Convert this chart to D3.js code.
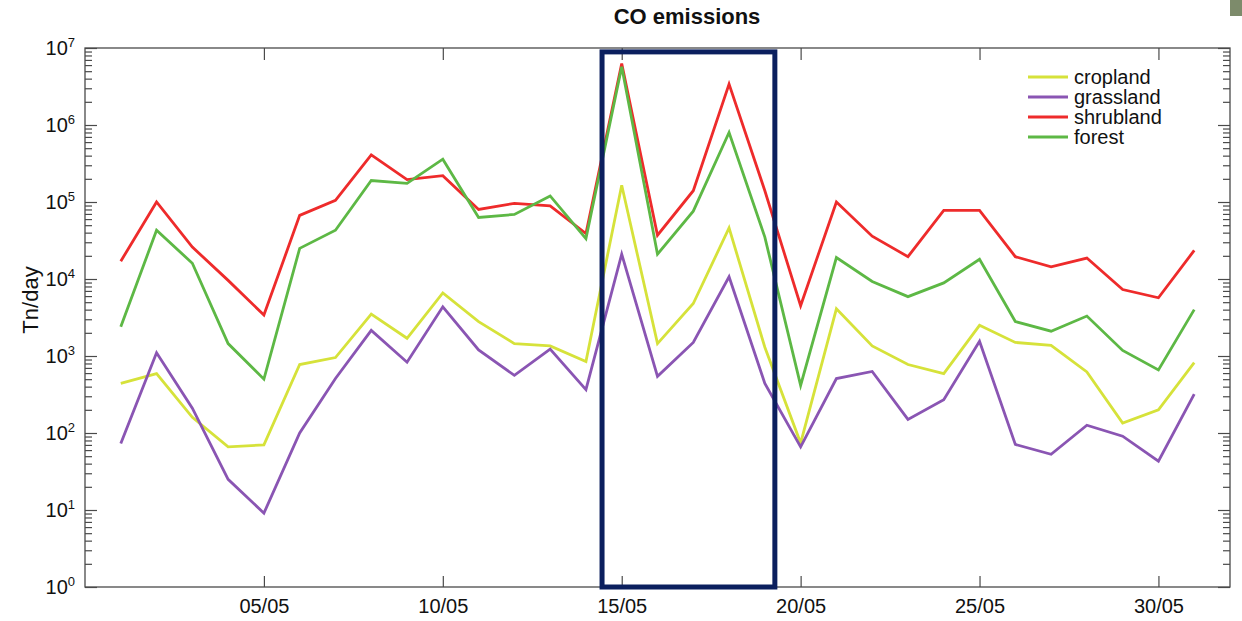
<!DOCTYPE html>
<meta charset="utf-8">
<script src="https://d3js.org/d3.v7.min.js"></script>
<style>
  body { margin: 0; background: #fff; }
  text { font-family: Arial, "Liberation Sans", Helvetica, sans-serif; }
</style>
<div id="chart"></div>
<script>
  const width = 1242, height = 621;

  // days of May
  const days = [1, 2, 3, 4, 5, 6, 7, 8, 9, 10, 11, 12, 13, 14, 15, 16, 17, 18, 19, 20, 21, 22, 23, 24, 25, 26, 27, 28, 29, 30, 31];
  const xTickDays = [5, 10, 15, 20, 25, 30];
  const xTickLabels = ["05/05", "10/05", "15/05", "20/05", "25/05", "30/05"];
  const yMajor = [1, 10, 100, 1e3, 1e4, 1e5, 1e6, 1e7];

  // CO emissions in Tn/day
  const cropland = [440, 590, 160, 66, 70, 775, 955, 3500, 1700, 6600, 2800, 1450, 1350, 850, 165000, 1450, 4800, 46000, 1300, 74, 4100, 1350, 775, 590, 2500, 1500, 1370, 620, 135, 200, 820];
  const grassland = [73, 1100, 210, 25, 9.1, 100, 510, 2150, 830, 4350, 1200, 560, 1230, 365, 21000, 545, 1500, 10700, 440, 66, 510, 630, 150, 270, 1550, 71, 53, 126, 91, 43, 320];
  const shrubland = [17000, 100000, 26000, 9600, 3400, 67000, 105000, 410000, 195000, 220000, 80000, 96000, 89000, 39000, 6300000, 37000, 140000, 3400000, 140000, 4500, 100000, 36000, 19500, 78000, 78000, 19500, 14400, 18700, 7300, 5700, 23500];
  const forest = [2400, 43000, 16000, 1450, 500, 25000, 43000, 190000, 175000, 360000, 63000, 69000, 120000, 33500, 5700000, 21000, 76000, 800000, 35000, 415, 19000, 9300, 5900, 8900, 18000, 2800, 2100, 3300, 1180, 660, 4000];

  const seriesNames = ["cropland", "grassland", "shrubland", "forest"];
  const seriesColors = ["#d6e23a", "#8a55b3", "#ee2b2b", "#5db845"];
  const seriesValues = [cropland, grassland, shrubland, forest];

  // highlighted period (days) drawn as a box
  const boxDays = [14.45, 19.28];
  const boxRange = [1, 8.9e6];

  const x = d3.scaleLinear().domain([0, 32]).range([85, 1230]);
  const y = d3.scaleLog().domain([1, 1e7]).range([587, 48]);

  const svg = d3.select("#chart")
    .append("svg")
    .attr("width", width)
    .attr("height", height);

  // minor ticks 2..9 x 10^k
  const yMinor = [];
  for (let k = 0; k < 7; k++) {
    for (let m = 2; m <= 9; m++) yMinor.push(m * Math.pow(10, k));
  }

  const axisColor = "#4a4a4a";

  function styleAxis(g) {
    g.select(".domain").remove();
    g.selectAll(".tick line").attr("stroke", axisColor).attr("stroke-width", 1.2);
    g.selectAll(".tick text").attr("fill", "#111").attr("font-size", 20)
      .attr("font-family", "Arial, 'Liberation Sans', sans-serif");
  }

  // bottom axis
  svg.append("g")
    .attr("transform", `translate(0, ${y(1)})`)
    .call(d3.axisBottom(x).tickValues(xTickDays)
      .tickFormat((d, i) => xTickLabels[i]).tickSize(-11).tickPadding(12))
    .call(styleAxis);

  // top axis
  svg.append("g")
    .attr("transform", `translate(0, ${y(1e7)})`)
    .call(d3.axisTop(x).tickValues(xTickDays).tickFormat("").tickSize(-12))
    .call(styleAxis);

  // left axis, major + minor
  const leftMajor = svg.append("g")
    .attr("transform", `translate(${x(0)}, 0)`)
    .call(d3.axisLeft(y).tickValues(yMajor).tickFormat("").tickSize(-12).tickPadding(10))
    .call(styleAxis);

  leftMajor.selectAll(".tick text").each(function (d) {
    const t = d3.select(this);
    t.text(null);
    t.append("tspan").text("10");
    t.append("tspan").attr("dy", "-0.6em").attr("font-size", 13).text(Math.round(Math.log10(d)));
  });

  svg.append("g")
    .attr("transform", `translate(${x(0)}, 0)`)
    .call(d3.axisLeft(y).tickValues(yMinor).tickFormat("").tickSize(-7))
    .call(styleAxis);

  // right axis
  svg.append("g")
    .attr("transform", `translate(${x(32)}, 0)`)
    .call(d3.axisRight(y).tickValues(yMajor).tickFormat("").tickSize(-12))
    .call(styleAxis);
  svg.append("g")
    .attr("transform", `translate(${x(32)}, 0)`)
    .call(d3.axisRight(y).tickValues(yMinor).tickFormat("").tickSize(-7))
    .call(styleAxis);

  // frame
  svg.append("rect")
    .attr("x", x(0)).attr("y", y(1e7))
    .attr("width", x(32) - x(0)).attr("height", y(1) - y(1e7))
    .attr("fill", "none").attr("stroke", axisColor).attr("stroke-width", 1.3);

  // lines
  const line = d3.line()
    .x((d, i) => x(days[i]))
    .y(d => y(d));

  svg.selectAll(".series")
    .data(seriesValues)
    .join("path")
    .attr("class", "series")
    .attr("d", line)
    .attr("fill", "none")
    .attr("stroke", (d, i) => seriesColors[i])
    .attr("stroke-width", 2.8)
    .attr("stroke-linejoin", "miter");

  // highlight box
  svg.append("rect")
    .attr("x", x(boxDays[0]))
    .attr("y", y(boxRange[1]))
    .attr("width", x(boxDays[1]) - x(boxDays[0]))
    .attr("height", y(boxRange[0]) - y(boxRange[1]))
    .attr("fill", "none")
    .attr("stroke", "#0b1f5e")
    .attr("stroke-width", 5);

  // legend
  const legend = svg.append("g");
  seriesNames.forEach((name, i) => {
    const ly = 77 + i * 20;
    legend.append("line")
      .attr("x1", 1028).attr("x2", 1068)
      .attr("y1", ly).attr("y2", ly)
      .attr("stroke", seriesColors[i]).attr("stroke-width", 2.8);
    legend.append("text")
      .attr("x", 1074).attr("y", ly).attr("dy", "0.35em")
      .attr("font-size", 20).attr("fill", "#111")
      .text(name);
  });

  // title
  svg.append("text")
    .attr("x", 687).attr("y", 24)
    .attr("text-anchor", "middle")
    .attr("font-size", 22).attr("font-weight", "bold").attr("fill", "#111")
    .text("CO emissions");

  // y label
  svg.append("text")
    .attr("transform", "translate(38, 300) rotate(-90)")
    .attr("text-anchor", "middle")
    .attr("font-size", 22).attr("fill", "#111")
    .text("Tn/day");

  // small grey mark in the corner of the scan
  svg.append("rect")
    .attr("x", 1230).attr("y", 0).attr("width", 12).attr("height", 16)
    .attr("fill", "#7d8b6b");
</script>
